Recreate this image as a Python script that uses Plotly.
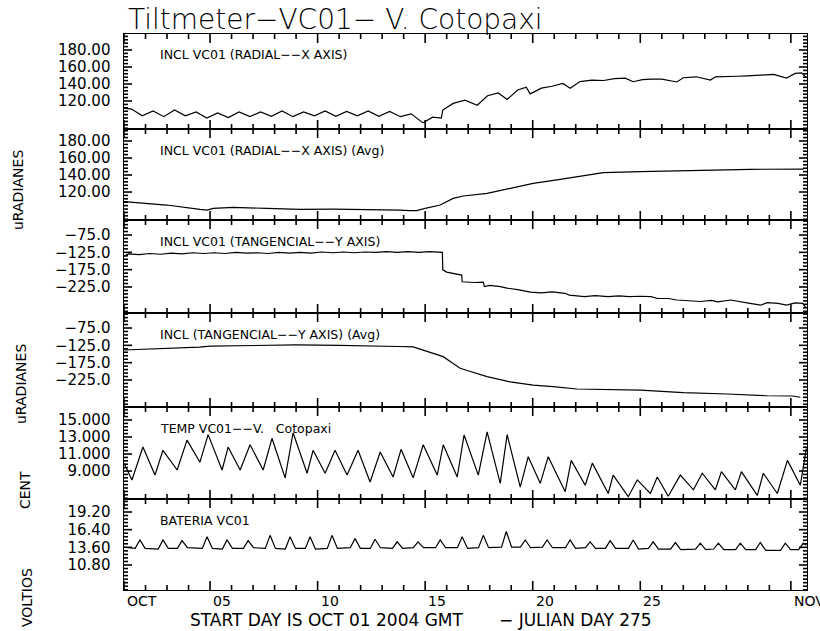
import math
import plotly.graph_objects as go

# ---------------- data (days since 2004-10-01 00:00 GMT) ----------------
rad_t = [0.00, 0.35, 0.85, 1.35, 1.85, 2.35, 2.85, 3.35, 3.85, 4.35, 4.85, 5.35, 5.85, 6.35,
         6.85, 7.35, 7.85, 8.35, 8.85, 9.35, 9.85, 10.35, 10.85, 11.35, 11.85, 12.35, 12.85,
         13.35, 13.90, 14.35, 14.75, 14.82, 15.30, 15.85, 16.42, 16.90, 17.40, 17.81, 18.30,
         18.70, 18.88, 19.40, 19.90, 20.40, 20.74, 21.20, 21.75, 22.30, 22.80, 23.30, 23.67,
         24.10, 24.50, 25.00, 25.70, 26.00, 26.60, 27.26, 27.50, 28.00, 28.50, 29.00, 29.60,
         30.20, 30.80, 31.20, 31.50, 31.72]
rad_v = [111.6, 110.5, 102.7, 108.3, 101.6, 109.4, 102.7, 107.2, 99.9, 106.1, 100.5, 107.2,
         101.6, 107.2, 102.1, 108.3, 101.6, 107.2, 102.7, 108.3, 102.1, 107.7, 102.7, 108.3,
         102.1, 107.7, 101.6, 104.9, 94.3, 101.0, 99.9, 109.4, 117.2, 121.1, 115.0, 126.2,
         129.5, 121.7, 132.9, 136.2, 128.4, 135.1, 137.4, 140.7, 135.1, 142.9, 144.6, 144.1,
         146.3, 146.9, 142.7, 145.2, 145.8, 145.7, 142.4, 147.4, 148.5, 144.6, 148.5, 148.5,
         149.1, 149.6, 150.2, 151.3, 146.9, 152.4, 153.0, 147.4]

ravg_t = [0.00, 1.98, 3.53, 3.86, 4.14, 5.07, 6.65, 8.19, 9.72, 11.30, 12.84, 13.30, 13.60,
          14.00, 14.70, 15.30, 15.77, 16.88, 17.95, 19.02, 20.28, 21.35, 22.28, 24.00, 26.00,
          29.12, 31.60]
ravg_v = [108.8, 104.7, 99.6, 98.8, 100.8, 101.9, 100.8, 99.6, 99.9, 99.6, 98.8, 98.1, 98.1,
          100.8, 104.7, 112.5, 115.3, 118.4, 124.3, 130.2, 134.9, 138.9, 142.7, 143.9, 145.1,
          146.7, 147.0]

tan_t = [0.00, 0.20, 0.70, 1.20, 1.70, 2.20, 2.70, 3.20, 3.70, 4.20, 4.70, 5.20, 5.70, 6.20,
         6.70, 7.20, 7.70, 8.20, 8.70, 9.20, 9.70, 10.20, 10.70, 11.20, 11.70, 12.20, 12.70,
         13.20, 13.70, 14.20, 14.80, 14.82, 15.00, 15.30, 15.60, 15.70, 15.72, 15.90, 16.30,
         16.70, 16.75, 17.00, 17.50, 17.80, 18.30, 18.90, 19.40, 19.90, 20.50, 20.70, 21.30,
         21.40, 21.90, 22.50, 23.00, 23.50, 24.00, 24.50, 24.80, 25.30, 25.70, 26.00, 26.80,
         27.30, 27.60, 28.20, 28.80, 29.10, 29.60, 29.90, 30.40, 30.80, 31.20, 31.55, 31.72]
tan_v = [-136.9, -129.4, -131.5, -128.3, -130.5, -127.2, -129.4, -126.2, -128.3, -126.2,
         -128.3, -125.1, -127.2, -126.2, -128.3, -125.1, -127.2, -125.1, -127.2, -124.0,
         -126.2, -124.0, -126.2, -124.0, -125.1, -123.0, -125.1, -123.0, -125.1, -123.0,
         -125.1, -175.5, -182.0, -185.2, -189.5, -190.6, -209.9, -210.9, -212.0, -210.9,
         -223.8, -220.6, -223.8, -228.1, -232.4, -239.9, -242.1, -238.8, -243.1, -248.5,
         -250.6, -252.8, -249.6, -252.8, -250.6, -252.8, -251.7, -252.8, -258.2, -258.2,
         -262.5, -263.5, -266.8, -263.5, -267.8, -262.5, -270.0, -272.1, -277.5, -270.0,
         -272.1, -277.5, -271.0, -272.1, -286.1]

tavg_t = [0.00, 1.00, 2.00, 3.00, 3.50, 4.00, 6.00, 8.00, 10.00, 12.00, 12.80, 13.44, 14.00,
          14.37, 14.84, 15.30, 15.63, 15.95, 16.88, 17.95, 19.02, 19.95, 21.07, 24.00, 26.00,
          28.05, 29.90, 31.07, 31.44]
tavg_v = [-138.5, -135.9, -134.8, -131.5, -130.4, -127.2, -126.1, -123.9, -125.0, -126.1,
          -128.3, -129.4, -140.2, -146.7, -157.6, -177.1, -191.2, -197.7, -215.1, -230.2,
          -239.5, -244.3, -250.9, -254.1, -261.7, -265.4, -270.4, -271.1, -274.7]

temp_t = [0.00, 0.37, 0.88, 1.44, 1.81, 2.47, 2.93, 3.53, 3.91, 4.56, 4.84, 5.40, 5.86, 6.47,
          6.88, 7.49, 7.86, 8.51, 8.79, 9.35, 9.81, 10.37, 10.88, 11.44, 11.91, 12.51, 12.88,
          13.44, 13.91, 14.56, 14.84, 15.49, 15.81, 16.47, 16.88, 17.49, 17.81, 18.42, 18.79,
          19.35, 19.72, 20.51, 20.79, 21.44, 21.77, 22.51, 22.74, 23.44, 23.86, 24.47, 24.79,
          25.30, 25.86, 26.47, 26.88, 27.49, 27.77, 28.42, 28.70, 29.44, 29.72, 30.37, 30.84,
          31.44, 31.72]
temp_v = [9.93, 7.95, 11.82, 8.52, 11.44, 9.12, 12.63, 10.04, 13.28, 9.12, 11.82, 9.12, 12.09,
          9.12, 12.85, 8.20, 13.50, 8.74, 11.44, 8.74, 11.44, 8.52, 11.44, 7.71, 11.23, 8.30,
          11.55, 8.20, 12.09, 8.52, 12.09, 8.30, 13.24, 8.52, 13.61, 7.55, 13.28, 7.11, 10.69,
          7.55, 10.69, 6.57, 10.25, 7.33, 9.93, 6.36, 8.52, 5.98, 7.95, 6.36, 8.30,
          6.03, 8.52, 6.79, 8.74, 6.79, 8.92, 6.79, 8.92, 6.14, 8.74, 6.36, 10.25,
          7.33, 11.66]

bat_t = [0.00,
         0.52, 0.74, 0.98, 1.59, 1.81, 2.06, 2.48, 2.70, 2.95, 3.64, 3.86, 4.11,
         4.57, 4.79, 5.04, 5.55, 5.77, 6.02, 6.57, 6.79, 7.04, 7.50, 7.72, 7.97,
         8.43, 8.65, 8.90, 9.45, 9.67, 9.92, 10.52, 10.74, 10.99, 11.45, 11.67, 11.92,
         12.48, 12.70, 12.95, 13.45, 13.67, 13.92, 14.48, 14.70, 14.95, 15.50, 15.72, 15.97,
         16.48, 16.70, 16.95, 17.55, 17.77, 18.02, 18.43, 18.65, 18.90, 19.45, 19.67, 19.92,
         20.52, 20.74, 20.99, 21.45, 21.67, 21.92, 22.38, 22.60, 22.85, 23.45, 23.67, 23.92,
         24.38, 24.60, 24.85, 25.41, 25.63, 25.88, 26.57, 26.79, 27.04, 27.41, 27.63, 27.88,
         28.43, 28.65, 28.90, 29.36, 29.58, 29.83, 30.52, 30.74, 30.99, 31.36, 31.58, 31.72]
bat_v = [13.64,
         13.43, 14.77, 13.43, 13.33, 14.77, 13.43, 13.43, 14.67, 13.54, 13.43, 15.29, 13.43,
         13.33, 14.77, 13.43, 13.43, 14.67, 13.54, 13.43, 15.50, 13.43, 13.33, 15.29, 13.43,
         13.43, 15.29, 13.33, 13.43, 15.50, 13.43, 13.54, 14.98, 13.43, 13.43, 14.88, 13.54,
         13.43, 14.47, 13.43, 13.54, 14.47, 13.54, 13.54, 14.77, 13.54, 13.54, 15.29, 13.43,
         13.54, 15.50, 13.54, 13.64, 16.11, 13.64, 13.64, 14.77, 13.54, 13.64, 14.77, 13.54,
         13.54, 14.77, 13.43, 13.54, 14.47, 13.43, 13.43, 14.67, 13.43, 13.43, 14.77, 13.33,
         13.43, 14.47, 13.33, 13.33, 14.36, 13.23, 13.33, 14.26, 13.23, 13.33, 14.26, 13.23,
         13.23, 14.26, 13.23, 13.23, 14.36, 13.13, 13.13, 14.26, 13.23, 13.23, 14.26, 13.95]

panel_titles = ["INCL VC01 (RADIAL\u2212\u2212X AXIS)",
                "INCL VC01 (RADIAL\u2212\u2212X AXIS) (Avg)",
                "INCL VC01 (TANGENCIAL\u2212\u2212Y AXIS)",
                "INCL (TANGENCIAL\u2212\u2212Y AXIS) (Avg)",
                "TEMP VC01\u2212\u2212V.   Cotopaxi",
                "BATERIA VC01"]
y_ranges = [[87.1, 198.8], [87.1, 194.1], [-300.0, -31.7], [-302.9, -31.7],
            [5.71, 16.53], [6.84, 21.26]]
y_tickvals = [[120, 140, 160, 180], [120, 140, 160, 180],
              [-225, -175, -125, -75], [-225, -175, -125, -75],
              [9, 11, 13, 15], [10.8, 13.6, 16.4, 19.2]]
y_ticktext = [["120.00", "140.00", "160.00", "180.00"], ["120.00", "140.00", "160.00", "180.00"],
              ["\u2212225.0", "\u2212175.0", "\u2212125.0", "\u221275.0"],
              ["\u2212225.0", "\u2212175.0", "\u2212125.0", "\u221275.0"],
              ["9.000", "11.000", "13.000", "15.000"], ["10.80", "13.60", "16.40", "19.20"]]
y_minor = [4, 4, 10, 10, 0.4, 0.56]
x_range = [0, 31.75]
x_tickvals = [0, 4, 9, 14, 19, 24, 31]
x_ticktext = ["OCT", "05", "10", "15", "20", "25", "NOV"]
x_minor = 1
y_titles = ["uRADIANES", "uRADIANES", "CENT", "VOLTIOS"]

# ---------------- layout geometry (pixels) ----------------
W, H = 820, 631
PL, PR, PT, PB = 124, 807, 34, 590
bounds = [34, 129, 220, 313, 407, 499, 590]
FONT = "DejaVu Sans"
PAD = "\u00a0\u00a0"
MAJ_X, MIN_X, MAJ_Y, MIN_Y = 9, 5, 8, 4


def py(px):
    return (PB - px) / (PB - PT)


def pxx(px):
    return (px - PL) / (PR - PL)


def tick_positions(lo, hi, t0, dt):
    k0 = math.ceil((lo - t0) / dt - 1e-9)
    k1 = math.floor((hi - t0) / dt + 1e-9)
    return [round(t0 + k * dt, 6) for k in range(k0, k1 + 1)]


fig = go.Figure()
series = [(rad_t, rad_v), (ravg_t, ravg_v), (tan_t, tan_v), (tavg_t, tavg_v),
          (temp_t, temp_v), (bat_t, bat_v)]
x_per_px = (x_range[1] - x_range[0]) / (PR - PL)
for i, (t, v) in enumerate(series):
    sfx = "" if i == 0 else str(i + 1)
    xid, yid = "x" + sfx, "y" + sfx
    lo, hi = y_ranges[i]
    y_per_px = (hi - lo) / (bounds[i + 1] - bounds[i])

    fig.add_trace(go.Scatter(x=t, y=v, mode="lines", xaxis=xid, yaxis=yid,
                             line=dict(color="black", width=1.2), showlegend=False))

    # inside tick marks (day ticks top/bottom, ruler ticks left/right)
    tx, ty = [], []
    for d in tick_positions(x_range[0], x_range[1], 0, x_minor):
        ln = (MAJ_X if any(abs(d - m) < 1e-6 for m in x_tickvals) else MIN_X) * y_per_px
        tx += [d, d, None, d, d, None]
        ty += [lo, lo + ln, None, hi, hi - ln, None]
    for yv in tick_positions(lo, hi, y_tickvals[i][0], y_minor[i]):
        ln = (MAJ_Y if any(abs(yv - m) < 1e-6 for m in y_tickvals[i]) else MIN_Y) * x_per_px
        tx += [x_range[0], x_range[0] + ln, None, x_range[1], x_range[1] - ln, None]
        ty += [yv, yv, None, yv, yv, None]
    fig.add_trace(go.Scatter(x=tx, y=ty, mode="lines", xaxis=xid, yaxis=yid,
                             line=dict(color="black", width=1.6), showlegend=False,
                             hoverinfo="skip", connectgaps=False, cliponaxis=False))

    fig.layout["xaxis" + sfx] = dict(
        domain=[0, 1], range=x_range, anchor=yid, showline=True, linecolor="black",
        mirror=True, ticks="", showticklabels=False, showgrid=False, zeroline=False)
    fig.layout["yaxis" + sfx] = dict(
        domain=[py(bounds[i + 1]), py(bounds[i])], range=y_ranges[i], anchor=xid,
        showline=True, linecolor="black", mirror=True, ticks="", tickmode="array",
        tickvals=y_tickvals[i], ticktext=[s + PAD for s in y_ticktext[i]],
        tickfont=dict(family=FONT, size=15, color="black"), showgrid=False, zeroline=False)

    fig.add_annotation(xref="paper", yref="paper", x=pxx(158), y=py(bounds[i] + 21),
                       text=panel_titles[i], showarrow=False, xanchor="left", yanchor="middle",
                       font=dict(family=FONT, size=12.5, color="black"))

# x tick labels (left-aligned at their tick, as in the original)
for xv, xt in zip(x_tickvals, x_ticktext):
    fig.add_annotation(xref="x6", yref="paper", x=xv, y=py(601), text=xt, showarrow=False,
                       xanchor="left", yanchor="middle", xshift=1,
                       font=dict(family=FONT, size=14, color="black"))

fig.add_annotation(xref="paper", yref="paper", x=pxx(188), y=py(620),
                   text="START DAY IS OCT 01 2004 GMT", showarrow=False,
                   xanchor="left", yanchor="middle",
                   font=dict(family=FONT, size=17, color="black"))
fig.add_annotation(xref="paper", yref="paper", x=pxx(497), y=py(620),
                   text="\u2212 JULIAN DAY 275", showarrow=False,
                   xanchor="left", yanchor="middle",
                   font=dict(family=FONT, size=17, color="black"))

# y titles
for txt, yc, xc in zip(y_titles, [190, 384, 490, 598], [18, 21, 25, 27]):
    fig.add_annotation(xref="paper", yref="paper", x=pxx(xc), y=py(yc), text=txt,
                       textangle=-90, showarrow=False, xanchor="center", yanchor="middle",
                       font=dict(family=FONT, size=14, color="black"))

# main title
fig.add_annotation(xref="paper", yref="paper", x=pxx(126), y=py(38),
                   text="Tiltmeter\u2212VC01\u2212 V. Cotopaxi", showarrow=False,
                   xanchor="left", yanchor="bottom",
                   font=dict(family=FONT, size=28, color="black", weight=200))

fig.update_layout(width=W, height=H, margin=dict(l=PL, r=W - PR, t=PT, b=H - PB),
                  paper_bgcolor="white", plot_bgcolor="white", showlegend=False)

fig.write_html("out.html")
